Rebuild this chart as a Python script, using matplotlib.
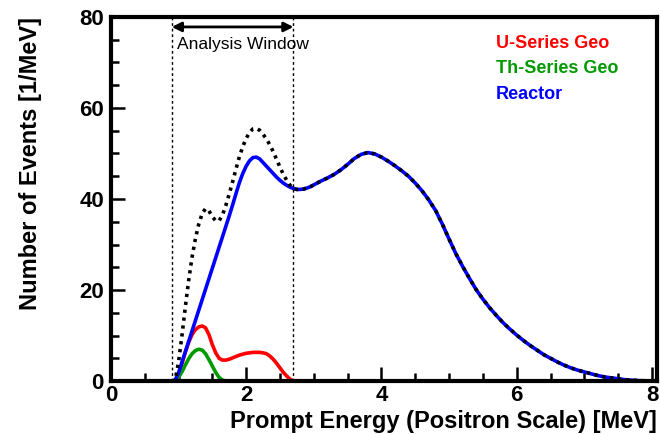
"""Expected prompt energy spectrum: reactor and geo-neutrino components"""
import numpy as np
import matplotlib
matplotlib.use('Agg')
import matplotlib.pyplot as plt

plt.rcParams['font.family'] = ['Liberation Sans', 'DejaVu Sans']

# energy grid [MeV]: fine steps over the analysis window, coarser above
energy = np.round(np.concatenate([np.arange(0.90, 3.001, 0.05),
                                  np.arange(3.1, 8.001, 0.1)]), 2)

reactor = [0.0, 0.2, 1.8, 4.1, 6.4, 8.7, 11.0, 13.3, 15.6, 17.9,
           20.2, 22.5, 24.8, 27.1, 29.4, 31.7, 34.0, 36.3, 38.7, 41.2,
           43.6, 45.6, 47.2, 48.4, 49.1, 49.2, 48.8, 48.0, 47.2, 46.4,
           45.6, 44.8, 44.1, 43.5, 43.0, 42.6, 42.3, 42.1, 42.1, 42.2,
           42.4, 42.7, 43.1,
           43.9, 44.6, 45.4, 46.4, 47.6, 48.9, 49.8, 50.2, 49.9, 49.2,
           48.3, 47.3, 46.2, 45.0, 43.5, 41.8, 39.8, 37.5, 34.5, 31.2,
           28.0, 25.2, 22.6, 20.1, 18.0, 16.1, 14.4, 12.8, 11.4, 10.1,
           8.9, 7.8, 6.8, 5.8, 5.0, 4.2, 3.5, 2.9, 2.4, 2.0,
           1.6, 1.2, 0.9, 0.7, 0.5, 0.3, 0.2, 0.1, 0.05, 0.0]

u_geo_low = [0.0, 0.0, 1.5, 3.8, 6.3, 8.5, 10.2, 11.3, 11.9, 12.1,
             11.7, 10.2, 8.0, 6.2, 5.0, 4.6, 4.6, 4.8, 5.1, 5.4,
             5.7, 5.9, 6.1, 6.2, 6.3, 6.3, 6.3, 6.2, 6.0, 5.5,
             4.8, 3.9, 2.9, 1.9, 1.1, 0.4, 0.0]

th_geo_low = [0.0, 0.0, 0.8, 2.0, 3.5, 4.9, 6.0, 6.7, 7.0, 6.8,
              6.0, 4.7, 3.3, 1.9, 0.8, 0.2, 0.0]

# pad geo spectra with zeros up to 8 MeV
u_geo = np.zeros(len(energy))
u_geo[:len(u_geo_low)] = u_geo_low
th_geo = np.zeros(len(energy))
th_geo[:len(th_geo_low)] = th_geo_low
reactor = np.array(reactor)
total = reactor + u_geo + th_geo

window = [0.9, 2.7]

fig = plt.figure(figsize=(6.6, 4.34), dpi=100)
ax = fig.add_axes([0.168, 0.122, 0.827, 0.839])

ax.plot(energy, u_geo, color='#ff0000', lw=2.6, solid_capstyle='round')
ax.plot(energy, th_geo, color='#009900', lw=2.6, solid_capstyle='round')
ax.plot(energy, reactor, color='#0000ff', lw=2.6, solid_capstyle='round')
ax.plot(energy, total, color='black', lw=2.6, linestyle=(0, (0.9, 1.3)))

# analysis window
for e in window:
    ax.plot([e, e], [0, 80], color='black', lw=1.0, linestyle=(0, (2, 2)))
ax.annotate('', xy=(window[0], 77.8), xytext=(window[1], 77.8),
            arrowprops=dict(arrowstyle='<|-|>', color='black', lw=2.0,
                            mutation_scale=14, shrinkA=0, shrinkB=0))
ax.text(0.98, 74.0, 'Analysis Window', fontsize=12.5, ha='left', va='center')

# legend as coloured labels
ax.text(0.705, 0.926, 'U-Series Geo', transform=ax.transAxes, color='#ff0000',
        fontsize=13, fontweight='bold', va='center')
ax.text(0.705, 0.857, 'Th-Series Geo', transform=ax.transAxes, color='#009900',
        fontsize=13, fontweight='bold', va='center')
ax.text(0.705, 0.788, 'Reactor', transform=ax.transAxes, color='#0000ff',
        fontsize=13, fontweight='bold', va='center')

ax.set_xlim(0, 8.07)
ax.set_ylim(0, 80)
ax.set_xticks([0, 2, 4, 6, 8])
ax.set_xticks(np.arange(0, 8.01, 0.5), minor=True)
ax.set_yticks([0, 20, 40, 60, 80])
ax.set_yticks(np.arange(0, 80.1, 5), minor=True)
ax.tick_params(which='both', direction='in', width=1.8, labelsize=16)
ax.tick_params(axis='y', pad=5)
ax.tick_params(axis='x', pad=3)
ax.tick_params(which='major', length=10)
ax.tick_params(which='minor', length=6)
for lab in ax.get_xticklabels() + ax.get_yticklabels():
    lab.set_fontweight('bold')
for s in ax.spines.values():
    s.set_linewidth(3.0)

ax.set_xlabel('Prompt Energy (Positron Scale) [MeV]', fontsize=17,
              fontweight='bold', loc='right', labelpad=3)
ax.set_ylabel('Number of Events [1/MeV]', fontsize=17, fontweight='bold',
              loc='top', labelpad=27)

plt.savefig('out.png', dpi=100)
